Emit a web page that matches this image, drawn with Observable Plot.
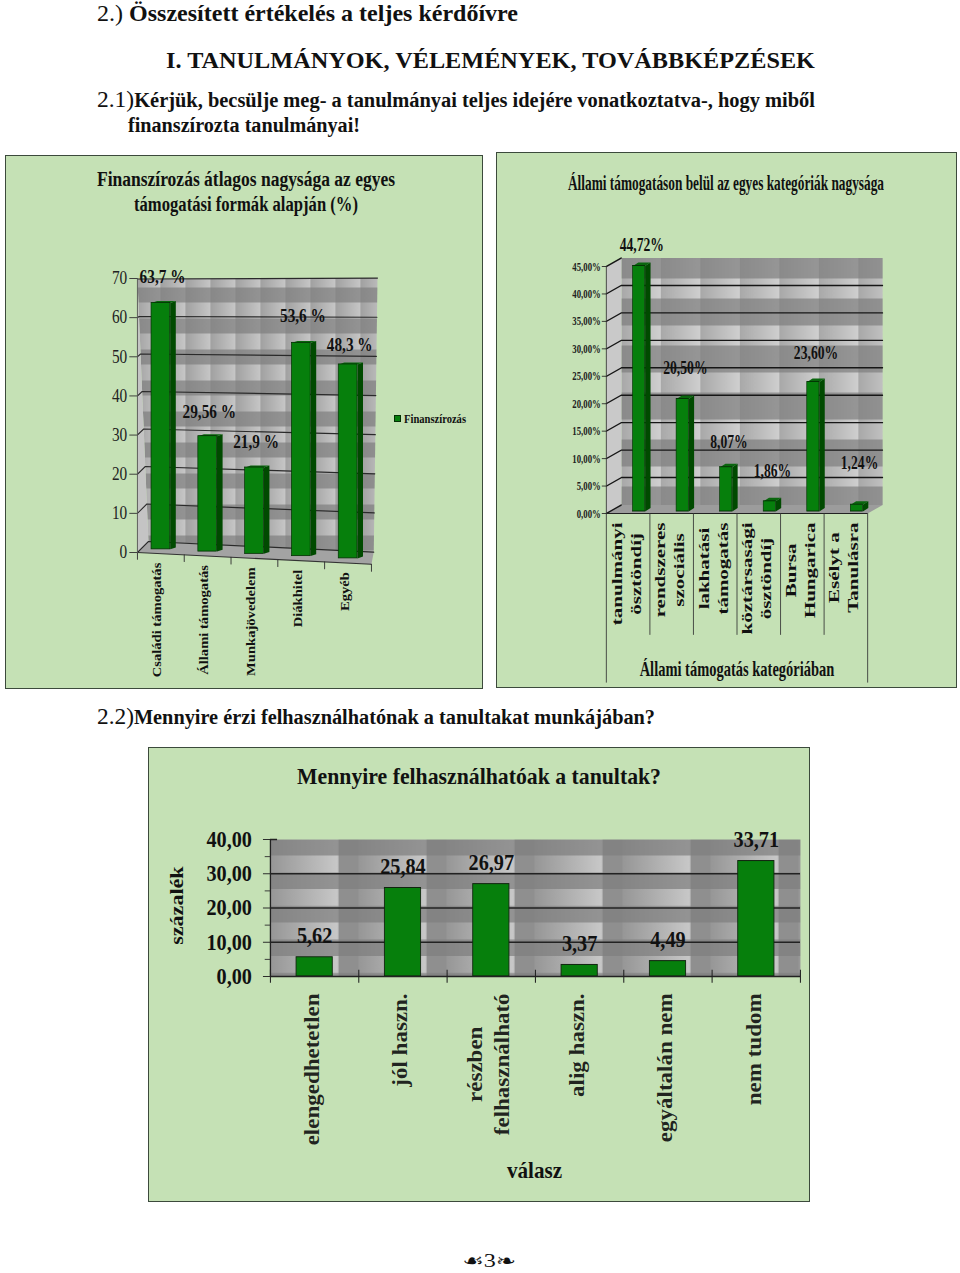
<!DOCTYPE html>
<html lang="hu">
<head>
<meta charset="utf-8">
<script src="https://cdn.jsdelivr.net/npm/d3@7"></script>
<script src="https://cdn.jsdelivr.net/npm/@observablehq/plot@0.6"></script>
<style>
html,body{margin:0;padding:0;background:#fff}
#page{position:relative;width:960px;height:1273px;overflow:hidden;font-family:"Liberation Serif",serif;color:#111}
.panel{position:absolute;box-sizing:border-box;background:#c5e1b5;border:1.5px solid #3c4a3c}
.t{position:absolute;white-space:nowrap;transform-origin:0 50%}
svg.chart{position:absolute;overflow:visible}
</style>
</head>
<body>
<div id="page"></div>
<script>
// ---------- data ----------
const categories1 = ["Családi támogatás", "Állami támogatás", "Munkajövedelem", "Diákhitel", "Egyéb"];
const values1 = [63.7, 29.56, 21.9, 53.6, 48.3];
const labels1 = ["63,7 %", "29,56 %", "21,9 %", "53,6 %", "48,3 %"];
const ticks1 = [0, 10, 20, 30, 40, 50, 60, 70];

const categories2 = ["tanulmányi\nösztöndíj", "rendszeres\nszociális", "lakhatási\ntámogatás", "köztársasági\nösztöndíj", "Bursa\nHungarica", "Esélyt a\nTanulásra"];
const values2 = [44.72, 20.5, 8.07, 1.86, 23.6, 1.24];
const labels2 = ["44,72%", "20,50%", "8,07%", "1,86%", "23,60%", "1,24%"];
const ticks2 = [0, 5, 10, 15, 20, 25, 30, 35, 40, 45];

const categories3 = ["elengedhetetlen", "jól haszn.", "részben\nfelhasználható", "alig haszn.", "egyáltalán nem", "nem tudom"];
const values3 = [5.62, 25.84, 26.97, 3.37, 4.49, 33.71];
const labels3 = ["5,62", "25,84", "26,97", "3,37", "4,49", "33,71"];
const ticks3 = [0, 10, 20, 30, 40];
const minorTicks3 = [5, 15, 25, 35];

// ---------- layout ----------
const FONT = "Liberation Serif";
const GREEN = "#067f0c", SIDE = "#004a00", TOP = "#0a660e", EDGE = "#033003";
const page = document.getElementById("page");
const lerp = (p, a, b) => a + (b - a) * p;

function text(html, left, cy, width, size, weight = "bold") {
  const d = document.createElement("div");
  d.className = "t";
  d.innerHTML = html;
  d.style.cssText = `left:${left}px;top:${cy}px;font-size:${size}px;font-weight:${weight};`;
  page.appendChild(d);
  const w = d.getBoundingClientRect().width;
  d.style.transform = `translateY(-50%) scaleX(${width / w})`;
}
function panel(x, y, w, h) {
  const d = document.createElement("div");
  d.className = "panel";
  d.style.cssText = `left:${x}px;top:${y}px;width:${w}px;height:${h}px`;
  page.appendChild(d);
}
// places a Plot svg over its panel; the horizontal squeeze of the original picture is reproduced
function place(svg, x, y, w, h) {
  svg.setAttribute("preserveAspectRatio", "none");
  svg.classList.add("chart");
  svg.style.cssText += `;left:${x}px;top:${y}px;width:${w}px;height:${h}px;max-width:none;background:transparent;overflow:visible`;
  page.appendChild(svg);
}
// tiled grey wall texture
function wallDefs(id, tw, th, ox, oy, lightW, lightH, c0, c1) {
  return () => {
    const g = d3.create("svg:defs");
    const lg = g.append("linearGradient").attr("id", id + "g");
    lg.append("stop").attr("offset", 0).attr("stop-color", c0);
    lg.append("stop").attr("offset", 1).attr("stop-color", c1);
    const p = g.append("pattern").attr("id", id).attr("patternUnits", "userSpaceOnUse")
      .attr("x", ox).attr("y", oy).attr("width", tw).attr("height", th);
    p.append("rect").attr("width", tw).attr("height", th).attr("fill", "#8f8f8f");
    p.append("rect").attr("width", lightW).attr("height", th).attr("fill", `url(#${id}g)`);
    p.append("rect").attr("y", lightH).attr("width", tw).attr("height", th - lightH).attr("fill", "#7e7e7e").attr("opacity", 0.7);
    return g.node();
  };
}
const poly = (rows, fill, extra = {}) => Plot.line(rows, {x: "x", y: "y", z: "id", fill, stroke: "none", ...extra});

// ---------- headings ----------
text('<span style="font-weight:normal">2.)</span> Összesített értékelés a teljes kérdőívre', 97, 14, 421, 23);
text("I. TANULMÁNYOK, VÉLEMÉNYEK, TOVÁBBKÉPZÉSEK", 166, 61, 649, 23);
text('<span style="font-weight:normal;font-size:23px">2.1)</span>Kérjük, becsülje meg- a tanulmányai teljes idejére vonatkoztatva-, hogy miből', 97, 100, 718, 20);
text("finanszírozta tanulmányai!", 128, 125, 232, 20);
text('<span style="font-weight:normal;font-size:23px">2.2)</span>Mennyire érzi felhasználhatónak a tanultakat munkájában?', 97, 717, 558, 20);

// ---------- chart 1 ----------
panel(5, 155, 478, 534);
text("Finanszírozás átlagos nagysága az egyes", 97, 179, 298, 20);
text("támogatási formák alapján (%)", 134, 204, 224, 20);
{
  const k = 0.85, W = 478 / k, H = 534;
  const X = p => (p - 5) / k;
  const n = categories1.length, pxPerUnit = 3.914;
  // perspective of the 3D box: t = depth (0 front, 1 back)
  const base = (u, t) => lerp(u / n, 2.81 * t, -3 + 3.1 * t);
  const gain = (u, t) => lerp(u / n, lerp(t, 1, 0.958), lerp(t, 1.05, 1));
  const py = (u, v, t) => base(u, t) + gain(u, t) * v;
  const px = (u, v, t) => u + t * lerp(u / n, 0.235 * (1 - v / 70), 0.05 + 0.08 * v / 70);
  const pt = (id, u, v, t) => ({id, x: px(u, v, t), y: py(u, v, t)});

  const wall = [pt(0,0,0,1), pt(0,0,70,1), pt(0,n,70,1), pt(0,n,0,1)];
  const sideWall = [pt(0,0,0,0), pt(0,0,70,0), pt(0,0,70,1), pt(0,0,0,1)];
  const floor = [pt(0,0,0,0), pt(0,0,0,1), pt(0,n,0,1), pt(0,n,0,0)];
  const grid = ticks1.flatMap(v => [pt(v,0,v,0), pt(v,0,v,1), pt(v,n,v,1)]);
  const xTicks = d3.range(n + 1).flatMap(i => [pt(i,i,0,0), pt(i,i,-1.7,0)]);

  const T = 0.39, bw = 0.2, sd = 0.12, rise = 0.5;
  const bars = values1.map((v, i) => {
    const c = i + 0.5, y1 = base(c, T), y2 = y1 + gain(c, T) * v;
    return {i, c, y1, y2, x1: c - bw, x2: c + bw};
  });
  const sides = bars.flatMap(b => [
    {id: b.i, x: b.x2, y: b.y1}, {id: b.i, x: b.x2 + sd, y: b.y1 + rise},
    {id: b.i, x: b.x2 + sd, y: b.y2 + rise}, {id: b.i, x: b.x2, y: b.y2}]);
  const tops = bars.flatMap(b => [
    {id: b.i, x: b.x1, y: b.y2}, {id: b.i, x: b.x1 + sd, y: b.y2 + rise},
    {id: b.i, x: b.x2 + sd, y: b.y2 + rise}, {id: b.i, x: b.x2, y: b.y2}]);
  const labelLift = [26, 24, 25, 27, 19];
  const svg = Plot.plot({
    width: W, height: H,
    marginLeft: X(137), marginRight: W - X(371), marginTop: 278 - 155, marginBottom: H - (552 - 155),
    x: {domain: [0, n], axis: null},
    y: {domain: [0, 70], axis: null},
    style: {fontFamily: FONT, background: "transparent", color: "#222"},
    marks: [
      wallDefs("w1", 25 / k, 31, X(135), 302 - 155, 25 / k, 16, "#a0a0a0", "#c6c6c6"),
      poly(wall, "url(#w1)"),
      poly(sideWall, "#c4c4c4"),
      poly(floor, "#a3a3a3"),
      Plot.line(grid, {x: "x", y: "y", z: "id", stroke: "#2a2a2a", strokeWidth: 1.2}),
      Plot.line([pt(0,0,0,0), pt(0,n,0,0)], {x: "x", y: "y", stroke: "#333", strokeWidth: 1.1}),
      Plot.line(xTicks, {x: "x", y: "y", z: "id", stroke: "#333", strokeWidth: 1.1}),
      Plot.line([pt(0,0,0,0), pt(0,0,70,0)], {x: "x", y: "y", stroke: "#555", strokeWidth: 1}),
      poly(sides, SIDE),
      poly(tops, TOP),
      Plot.rect(bars, {x1: "x1", x2: "x2", y1: "y1", y2: "y2", fill: GREEN, stroke: EDGE, strokeWidth: 0.8}),
      Plot.axisY({ticks: ticks1, tickSize: 9, tickPadding: 3, fontSize: 18, label: null, anchor: "left", stroke: "#333"}),
      Plot.text(bars, {x: "c", y: (b, i) => b.y2 + labelLift[i] / pxPerUnit, text: (b, i) => labels1[i], dx: 2, fontSize: 18, fontWeight: "bold", fill: "#111"}),
      Plot.text(bars, {x: "c", y: b => base(b.c, 0), text: (b, i) => categories1[i], rotate: -90, textAnchor: "end", dx: -4, dy: 9, fontSize: 14.6, fontWeight: "bold", fill: "#111"})
    ]
  });
  place(svg, 5, 155, 478, H);
}
// legend of chart 1
{
  const sq = document.createElement("div");
  sq.style.cssText = `position:absolute;left:394px;top:415px;width:7px;height:7px;background:${GREEN};border:0.5px solid ${EDGE};box-sizing:border-box`;
  page.appendChild(sq);
  text("Finanszírozás", 404, 419, 62, 12);
}

// ---------- chart 2 ----------
panel(496, 152, 461, 536);
text("Állami támogatáson belül az egyes kategóriák nagysága", 568, 183, 316, 21);
{
  const k = 0.7, W = 460 / k, H = 535;
  const X = p => (p - 496) / k;
  const n = categories2.length, pxPerUnit = 5.49, uW = 43.55;
  const ox = 15 / uW, oy = 8.5 / pxPerUnit;
  const rows = vs => vs.map(([x, y]) => ({id: 0, x, y}));
  const wall = rows([[ox, oy], [ox, 45 + oy], [n + ox, 45 + oy], [n + ox, oy]]);
  const sideWall = rows([[0, 0], [0, 45], [ox, 45 + oy], [ox, oy]]);
  const floor = rows([[0, 0], [ox, oy], [n + ox, oy], [n, 0]]);
  const grid = ticks2.flatMap(v => (v === 0 || v === 45)
    ? [{id: v, x: 0, y: v}, {id: v, x: ox, y: v + oy}]
    : [{id: v, x: 0, y: v}, {id: v, x: ox, y: v + oy}, {id: v, x: n + ox, y: v + oy}]);
  const b0 = 0.36, sd = 0.125, rise = 0.64;
  const bars = values2.map((v, i) => ({i, c: i + 0.75, x1: i + 0.61, x2: i + 0.89, y1: b0, y2: b0 + v}));
  const sides = bars.flatMap(b => [
    {id: b.i, x: b.x2, y: b.y1}, {id: b.i, x: b.x2 + sd, y: b.y1 + rise},
    {id: b.i, x: b.x2 + sd, y: b.y2 + rise}, {id: b.i, x: b.x2, y: b.y2}]);
  const tops = bars.flatMap(b => [
    {id: b.i, x: b.x1, y: b.y2}, {id: b.i, x: b.x1 + sd, y: b.y2 + rise},
    {id: b.i, x: b.x2 + sd, y: b.y2 + rise}, {id: b.i, x: b.x2, y: b.y2}]);
  const labelLift = [21, 31, 25, 31, 29, 42];
  const catFontPx = 21;
  const ctx = document.createElement("canvas").getContext("2d");
  ctx.font = `bold ${catFontPx}px "${FONT}"`;
  const widest = s => d3.max(s.split("\n"), l => ctx.measureText(l).width);
  const svg = Plot.plot({
    width: W, height: H,
    marginLeft: X(606), marginRight: W - X(867.3), marginTop: 266 - 152, marginBottom: H - (513 - 152),
    x: {domain: [0, n], axis: null},
    y: {domain: [0, 45], axis: null},
    style: {fontFamily: FONT, background: "transparent", color: "#222"},
    marks: [
      wallDefs("w2", 39.5 / k, 47, X(621), 278 - 152, 39.5 / k, 20, "#a8a8a8", "#cfcfcf"),
      poly(wall, "url(#w2)"),
      poly(sideWall, "#c9c9c9"),
      poly(floor, "#9c9c9c"),
      Plot.line(grid, {x: "x", y: "y", z: "id", stroke: "#161616", strokeWidth: 1.4}),
      poly(sides, SIDE),
      poly(tops, TOP),
      Plot.rect(bars, {x1: "x1", x2: "x2", y1: "y1", y2: "y2", fill: GREEN, stroke: EDGE, strokeWidth: 0.9}),
      Plot.ruleY([0], {x1: 0, x2: n, stroke: "#222", strokeWidth: 1.2}),
      Plot.ruleX([0], {y1: 45, y2: -30.9, stroke: "#333", strokeWidth: 1}),
      Plot.ruleX([n], {y1: 0, y2: -30.9, stroke: "#333", strokeWidth: 1}),
      Plot.ruleX(d3.range(1, n), {y1: 0, y2: -22.2, stroke: "#333", strokeWidth: 1}),
      Plot.axisY({ticks: ticks2, tickSize: 6, tickPadding: 2, fontSize: 12.5, fontWeight: "bold", label: null, anchor: "left", stroke: "#222",
        tickFormat: d => d.toFixed(2).replace(".", ",") + "%"}),
      Plot.text(bars, {x: "c", y: (b, i) => b.y2 + labelLift[i] / pxPerUnit, text: (b, i) => labels2[i], dx: 4, fontSize: 19.5, fontWeight: "bold", fill: "#111"}),
      Plot.text(categories2, {x: (d, i) => i + 0.5, y: d => -(522 - 513 + widest(d) / 2) / pxPerUnit, text: d => d, rotate: -90, textAnchor: "middle", lineAnchor: "middle", lineHeight: 1.3, dx: -4.5, fontSize: catFontPx, fontWeight: "bold", fill: "#111"}),
      Plot.text(["Állami támogatás kategóriában"], {x: 3, y: -28.4, text: d => d, fontSize: 20.7, fontWeight: "bold", fill: "#111"})
    ]
  });
  place(svg, 496, 152, 460, H);
}

// ---------- chart 3 ----------
panel(148, 747, 662, 455);
text("Mennyire felhasználhatóak a tanultak?", 297, 777, 364, 23);
{
  const k = 0.88, W = 662 / k, H = 454;
  const X = p => (p - 148) / k;
  const n = categories3.length, pxPerUnit = 3.43;
  const bars = values3.map((v, i) => ({i, c: i + 0.5, x1: i + 0.295, x2: i + 0.705, y1: 0, y2: v}));
  const fmt = d => d.toFixed(2).replace(".", ",");
  const catFontPx = 23;
  const ctx = document.createElement("canvas").getContext("2d");
  ctx.font = `bold ${catFontPx}px "${FONT}"`;
  const widest = s => d3.max(s.split("\n"), l => ctx.measureText(l).width);
  const svg = Plot.plot({
    width: W, height: H,
    marginLeft: X(270), marginRight: W - X(800), marginTop: 839 - 747, marginBottom: H - (976 - 747),
    x: {domain: [0, n], axis: null},
    y: {domain: [0, 40], axis: null},
    style: {fontFamily: FONT, background: "transparent", color: "#222"},
    marks: [
      wallDefs("w3", 88 / k, 33.5, X(270), 855 - 747, 68 / k, 17, "#969696", "#c8c8c8"),
      Plot.frame({fill: "url(#w3)", stroke: "none"}),
      Plot.ruleY(ticks3.slice(1, -1), {stroke: "#222", strokeWidth: 1.5}),
      Plot.rect(bars, {x1: "x1", x2: "x2", y1: "y1", y2: "y2", fill: GREEN, stroke: "#10240f", strokeWidth: 1}),
      Plot.ruleY([0], {stroke: "#222", strokeWidth: 1.5}),
      Plot.ruleX([0], {y1: 0, y2: 40, stroke: "#222", strokeWidth: 1.5}),
      Plot.ruleY([40], {x1: 0, x2: 0.08, stroke: "#222", strokeWidth: 1.5}),
      Plot.ruleX(d3.range(0, n + 1), {y1: 1.8, y2: -2, stroke: "#222", strokeWidth: 1.2}),
      Plot.axisY({ticks: minorTicks3, tickSize: 6, tickFormat: () => "", label: null, anchor: "left", stroke: "#333"}),
      Plot.axisY({ticks: ticks3, tickSize: 8, tickPadding: 13, fontSize: 23, fontWeight: "bold", label: null, anchor: "left", stroke: "#222", tickFormat: fmt, fill: "#111"}),
      Plot.text(bars, {x: "c", y: "y2", text: (b, i) => labels3[i], dy: -21.5, fontSize: 23, fontWeight: "bold", fill: "#111"}),
      Plot.text(categories3, {x: (d, i) => i + 0.5, y: d => -(993 - 976 + widest(d) / 2) / pxPerUnit, text: d => d, rotate: -90, textAnchor: "middle", lineAnchor: "middle", lineHeight: 1.33, dx: -5, fontSize: catFontPx, fontWeight: "bold", fill: "#111", fillOpacity: 0.92}),
      Plot.text(["százalék"], {x: -1.03, y: 20.7, text: d => d, rotate: -90, dx: -3, fontSize: 22, fontWeight: "bold", fill: "#111"}),
      Plot.text(["válasz"], {x: 2.99, y: -56.6, text: d => d, fontSize: 24, fontWeight: "bold", fill: "#111"})
    ]
  });
  place(svg, 148, 747, 662, H);
}

// ---------- page number ----------
text('<span style="font-family:\'DejaVu Sans\'">☙</span>3<span style="font-family:\'DejaVu Sans\'">❧</span>', 462, 1261, 54, 18, "normal");
</script>
</body>
</html>
